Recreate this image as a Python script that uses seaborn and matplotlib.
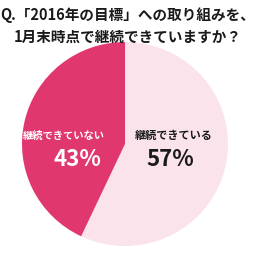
import matplotlib
matplotlib.use("Agg")
import matplotlib.pyplot as plt
import seaborn as sns

labels = ["継続できている", "継続できていない"]
values = [57, 43]
colors = ["#FBE3EC", "#E0376F"]
text_colors = ["#1a1a1a", "white"]
title = "Q.「2016年の目標」への取り組みを、\n1月末時点で継続できていますか？"

sns.set_theme(style="white")
plt.rcParams['font.family'] = ['Noto Sans CJK JP', 'DejaVu Sans']

fig = plt.figure(figsize=(2.56, 2.55), dpi=100)
ax = fig.add_axes([22 / 256, 8 / 255, 206 / 256, 204 / 255])
ax.pie(values, colors=colors, startangle=90, counterclock=False,
       wedgeprops=dict(linewidth=0))
ax.set_xlim(-1, 1)
ax.set_ylim(-1, 1)
ax.set_aspect("auto")
ax.axis("off")

# label / percent positions (data coords)
label_pos = [(0.475, 0.09), (-0.59, 0.09)]
pct_pos = [(0.44, -0.14), (-0.46, -0.14)]
label_size = [8, 7.4]
for lab, v, c, (x, y), (px, py), fs in zip(labels, values, text_colors, label_pos, pct_pos, label_size):
    ax.text(x, y, lab, ha="center", va="center", fontsize=fs, fontweight="bold", color=c)
    ax.text(px, py, f"{v}%", ha="center", va="center", fontsize=16, fontweight="bold", color=c)

fig.text(0.5, 1 - 7 / 255, title, ha="center", va="top", fontsize=10.5, fontweight="bold",
         color="#1a1a1a", linespacing=1.45)

fig.savefig("out.png", dpi=100)
